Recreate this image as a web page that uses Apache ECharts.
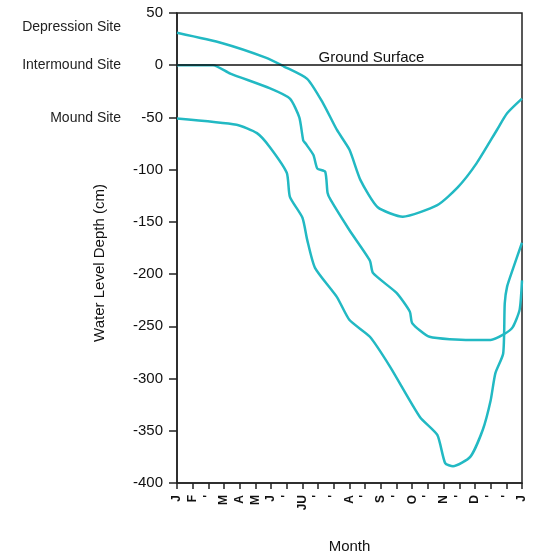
<!DOCTYPE html>
<html>
<head>
<meta charset="utf-8">
<script src="https://cdn.jsdelivr.net/npm/echarts@6/dist/echarts.min.js"></script>
<style>
  html, body { margin: 0; padding: 0; background: #fff; }
  #chart { width: 533px; height: 554px; }
</style>
</head>
<body>
<div id="chart"></div>
<script>
// month ticks (0..22) along the x axis
var monthLabels = ['J', 'F', "'", 'M', 'A', 'M', 'J', "'", 'JU', "'", "'", 'A', "'", 'S', "'", 'O', "'", 'N', "'", 'D', "'", "'", 'J'];

// depression site: tick position / depth (cm)
var depX = [0, 2.9, 5.7, 6.8, 8.3, 9.3, 10.2, 11.0, 11.7, 12.8, 14.4, 16.6, 17.9, 19.1, 20.4, 21.05, 22];
var depY = [31, 21, 7, -1, -13, -36, -62, -81, -110, -136, -145, -134, -117, -94, -62, -46, -32];

// intermound site
var intX = [0, 2.3, 3.4, 5.9, 7.2, 7.8, 8.05, 8.2, 8.7, 8.95, 9.45, 9.6, 9.8, 11.0, 12.3, 12.5, 14.0, 14.85, 15.0, 16.1, 18.7, 20.0, 20.8, 21.4, 21.85, 22];
var intY = [0, 0, -8, -22, -32, -50, -72, -75, -86, -99, -102, -122, -129, -158, -187, -199, -218, -236, -247, -260, -263, -263, -258, -251, -234, -206];

// mound site
var monX = [0, 3.8, 5.1, 5.9, 7.0, 7.2, 8.0, 8.3, 8.8, 10.2, 11.0, 12.3, 13.6, 15.5, 16.6, 17.1, 17.6, 18.7, 19.5, 20.0, 20.3, 20.8, 20.9, 21.05, 21.4, 22];
var monY = [-51, -57, -65, -78, -103, -126, -146, -167, -194, -222, -244, -260, -289, -337, -354, -381, -384, -375, -349, -321, -295, -276, -228, -212, -196, -170];

var siteNames = ['Depression Site', 'Intermound Site', 'Mound Site'];

var lineColor = '#22b9c3';
var fontFam = '"Liberation Sans", Arial, Helvetica, sans-serif';

function makeSeries(xs, ys, name, offset) {
	var data = [];
	for (var i = 0; i < xs.length; i++) {
		data.push([xs[i], ys[i]]);
	}
	return {
		name: name,
		type: 'line',
		smooth: 0.2,
		showSymbol: false,
		symbol: 'none',
		lineStyle: { color: lineColor, width: 2.5 },
		data: data,
		// site name to the left of the axis, at the start of the curve
		markPoint: {
			silent: true,
			symbol: 'circle',
			symbolSize: 0,
			label: {
				show: true,
				position: 'left',
				distance: 56,
				offset: offset,
				formatter: name,
				color: '#222',
				fontSize: 14,
				fontFamily: fontFam
			},
			data: [{ coord: [xs[0], ys[0]] }]
		}
	};
}

var depSeries = makeSeries(depX, depY, siteNames[0], [0, -6]);
depSeries.markLine = {
	silent: true,
	symbol: 'none',
	lineStyle: { color: '#111', width: 1.5, type: 'solid' },
	label: {
		show: true,
		position: 'middle',
		formatter: 'Ground Surface',
		color: '#111',
		fontSize: 15,
		fontFamily: fontFam,
		offset: [22, 5]
	},
	data: [{ yAxis: 0 }]
};

var myChart = echarts.init(document.getElementById('chart'));
var option = {
	animation: false,
	backgroundColor: '#fff',
	grid: {
		left: 177,
		right: 11,
		top: 13,
		bottom: 71,
		outerBoundsMode: 'none',
		show: true,
		borderColor: '#222',
		borderWidth: 1.5
	},
	xAxis: {
		type: 'value',
		min: 0,
		max: 22,
		interval: 1,
		name: 'Month',
		nameLocation: 'middle',
		nameGap: 56,
		nameTextStyle: { color: '#111', fontSize: 15, fontFamily: fontFam },
		axisLine: { onZero: false, lineStyle: { color: '#222', width: 1.5 } },
		axisTick: { show: true, length: 6, lineStyle: { color: '#222', width: 1.5 } },
		splitLine: { show: false },
		axisLabel: {
			rotate: 90,
			margin: 12,
			color: '#111',
			fontSize: 12,
			fontWeight: 'bold',
			fontFamily: fontFam,
			formatter: function (v) {
				return monthLabels[Math.round(v)] || '';
			}
		}
	},
	yAxis: {
		type: 'value',
		min: -400,
		max: 50,
		interval: 50,
		name: 'Water Level Depth (cm)',
		nameLocation: 'middle',
		nameGap: 70,
		nameTextStyle: { color: '#111', fontSize: 15, fontFamily: fontFam, padding: [0, 30, 0, 0] },
		axisLine: { show: true, onZero: false, lineStyle: { color: '#222', width: 1.5 } },
		axisTick: { show: true, length: 8, lineStyle: { color: '#222', width: 1.5 } },
		splitLine: { show: false },
		axisLabel: {
			margin: 14,
			color: '#111',
			fontSize: 15,
			fontFamily: fontFam
		}
	},
	series: [
		depSeries,
		makeSeries(intX, intY, siteNames[1], [0, 0]),
		makeSeries(monX, monY, siteNames[2], [0, 0])
	]
};
myChart.setOption(option);
</script>
</body>
</html>
